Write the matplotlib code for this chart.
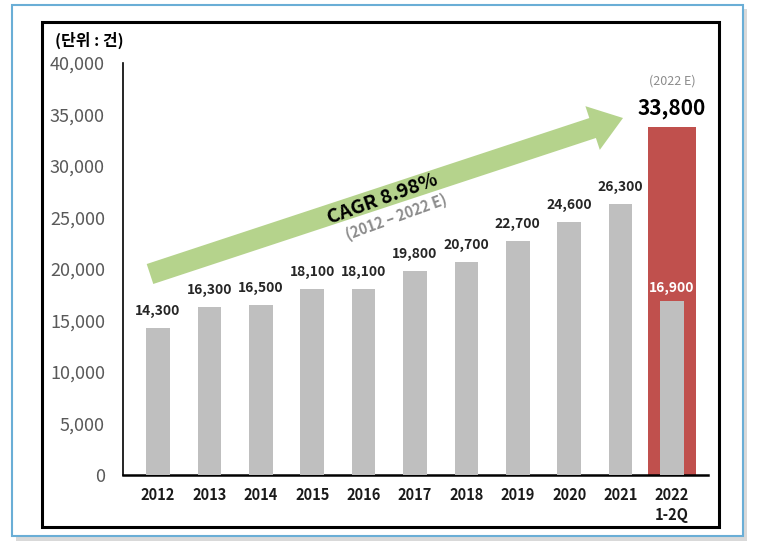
import matplotlib
matplotlib.use("Agg")
import matplotlib.pyplot as plt
from matplotlib.patches import Rectangle, FancyArrow
from matplotlib.transforms import Affine2D

plt.rcParams['font.family'] = ['Noto Sans CJK KR', 'DejaVu Sans']

years = ['2012', '2013', '2014', '2015', '2016', '2017', '2018', '2019', '2020', '2021', '2022\n1-2Q']
counts = [14300, 16300, 16500, 18100, 18100, 19800, 20700, 22700, 24600, 26300, 16900]
estimate_2022 = 33800
yticks = [0, 5000, 10000, 15000, 20000, 25000, 30000, 35000, 40000]

gray = '#bfbfbf'
red = '#c0504d'

fig = plt.figure(figsize=(7.7, 5.46), dpi=100)
W, H = 770, 546

def px(x, y):
    # pixel position (from top-left) -> figure fraction
    return x / W, 1 - y / H

# outer frames: shadow, blue border, black border
fig.patches.append(Rectangle(px(16, 541), 731 / W, 532 / H, transform=fig.transFigure,
                             facecolor='#d9d9d9', edgecolor='none', zorder=0))
fig.patches.append(Rectangle(px(12, 536), 731 / W, 531 / H, transform=fig.transFigure,
                             facecolor='white', edgecolor='#6aaed6', lw=1.5, zorder=1))
fig.patches.append(Rectangle(px(42, 527), 677 / W, 505 / H, transform=fig.transFigure,
                             facecolor='white', edgecolor='black', lw=2.2, zorder=2))

ax = fig.add_axes([123 / W, 71 / H, 585 / W, 412 / H])
ax.set_zorder(3)
ax.patch.set_alpha(0)

x = list(range(len(years)))
# 2022 full-year estimate (red) behind the 1-2Q bar
ax.bar(x[-1], estimate_2022, width=0.95, color=red, zorder=2)
ax.bar(x, counts, width=0.46, color=gray, zorder=3)

for i, v in enumerate(counts[:-1]):
    ax.annotate(f'{v:,}', (i, v), xytext=(0, 7), textcoords='offset points',
                ha='center', va='bottom', fontsize=10, fontweight='bold', color='#262626')
ax.annotate(f'{counts[-1]:,}', (x[-1], counts[-1]), xytext=(0, 4), textcoords='offset points',
            ha='center', va='bottom', fontsize=10, fontweight='bold', color='white', zorder=5)
ax.annotate(f'{estimate_2022:,}', (x[-1], estimate_2022), xytext=(0, 6), textcoords='offset points',
            ha='center', va='bottom', fontsize=15, fontweight='bold', color='black')
ax.annotate('(2022 E)', (x[-1], estimate_2022), xytext=(0, 28), textcoords='offset points',
            ha='center', va='bottom', fontsize=9, color='#8c8c8c')

ax.set_xlim(-0.68, 10.7)
ax.set_ylim(0, 40000)
ax.set_yticks(yticks)
ax.set_yticklabels([f'{t:,}' for t in yticks])
ax.set_xticks(x)
ax.set_xticklabels(years, fontweight='bold', fontsize=10.5, color='#1a1a1a', linespacing=1.3)
ax.tick_params(axis='y', length=0, pad=13, labelsize=13, labelcolor='#595959')
ax.tick_params(axis='x', length=0, pad=9)
for s in ['top', 'right']:
    ax.spines[s].set_visible(False)
ax.spines['left'].set_linewidth(1.2)
ax.spines['bottom'].set_linewidth(1.8)

# CAGR arrow, drawn in pixel units of the figure
tail = (150, H - 274)
tip = (623, H - 118)
arrow = FancyArrow(tail[0], tail[1], tip[0] - tail[0], tip[1] - tail[1], width=21,
                   head_width=46, head_length=32, length_includes_head=True,
                   facecolor='#b5d38c', edgecolor='none', zorder=4)
arrow.set_transform(Affine2D().scale(1 / W, 1 / H) + fig.transFigure)
fig.patches.append(arrow)

fig.text(*px(383, 199), 'CAGR 8.98%', rotation=20, ha='center', va='center',
         fontsize=14, fontweight='bold', color='black', zorder=6)
fig.text(*px(396, 217), '(2012 – 2022 E)', rotation=20, ha='center', va='center',
         fontsize=10.5, fontweight='bold', color='#8c8c8c', zorder=6)

fig.text(*px(55, 40), '(단위 : 건)', ha='left', va='center', fontsize=11.5,
         fontweight='bold', color='black', zorder=6)

fig.savefig('out.png', dpi=100)
